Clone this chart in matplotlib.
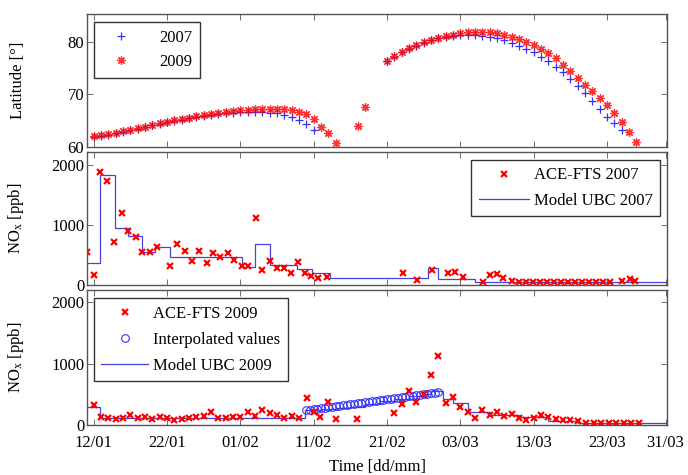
import matplotlib
matplotlib.use("Agg")
import matplotlib.pyplot as plt

plt.rcParams['font.family'] = ['Liberation Serif', 'DejaVu Serif']
plt.rcParams['mathtext.fontset'] = 'custom'
plt.rcParams['mathtext.rm'] = 'Liberation Serif'
plt.rcParams['mathtext.it'] = 'Liberation Serif:italic'

# ---- x axis ticks (days since 12 Jan) ----
tick_days = [0, 10, 20, 30, 40, 50, 60, 70, 78]
tick_labels = ['12/01', '22/01', '01/02', '11/02', '21/02', '03/03', '13/03', '23/03', '31/03']

# ---- Latitude 2007 ----
lat07_days = list(range(0, 31)) + list(range(40, 73))
lat07 = [61.9, 62.1, 62.3, 62.6, 62.9, 63.2, 63.5, 63.8, 64.1, 64.4, 64.7, 65.0, 65.2, 65.5,
         65.7, 65.9, 66.1, 66.3, 66.4, 66.5, 66.6, 66.6, 66.6, 66.6, 66.5, 66.4, 66.1, 65.7,
         65.1, 64.3, 63.2,
         76.3, 77.2, 78.0, 78.7, 79.3, 79.8, 80.3, 80.7, 81.0, 81.2, 81.3, 81.3, 81.3, 81.2,
         81.0, 80.7, 80.3, 79.8, 79.3, 78.7, 78.0, 77.2, 76.3, 75.3, 74.2, 73.0, 71.7, 70.3,
         68.8, 67.3, 65.8, 64.6, 63.2]

# ---- Latitude 2009 ----
lat09_days = list(range(0, 34)) + [36, 37] + list(range(40, 75))
lat09 = [62.0, 62.2, 62.4, 62.7, 63.0, 63.3, 63.6, 63.9, 64.2, 64.5, 64.8, 65.1, 65.4, 65.6,
         65.9, 66.1, 66.3, 66.5, 66.7, 66.9, 67.0, 67.1, 67.2, 67.3, 67.3, 67.3, 67.2, 67.0,
         66.7, 66.2, 65.3, 63.9, 62.6, 60.8,
         64.0, 67.6,
         76.4, 77.3, 78.1, 78.8, 79.4, 79.9, 80.4, 80.8, 81.1, 81.4, 81.6, 81.8, 81.9, 81.9,
         81.8, 81.6, 81.4, 81.0, 80.5, 80.0, 79.4, 78.7, 77.9, 77.0, 75.6, 74.5, 73.2, 71.8,
         70.6, 69.4, 68.0, 66.4, 64.7, 62.8, 61.0]

# ---- NOx ACE-FTS 2007 ----
ace07_days = [-0.9, 0.0, 0.9, 1.8, 2.8, 3.9, 4.7, 5.8, 6.6, 7.7, 8.6, 10.4, 11.4, 12.5, 13.4,
              14.4, 15.4, 16.3, 17.3, 18.3, 19.2, 20.2, 21.0, 22.1, 23.0, 24.0, 25.0, 25.9,
              26.9, 27.9, 28.8, 29.7, 30.6, 31.8,
              42.2, 44.1, 46.2, 48.3, 49.3, 50.4, 53.1, 54.1, 55.0, 55.8,
              57.1, 58.0, 59.0, 59.9, 60.9, 61.8, 62.8, 63.7, 64.7, 65.6, 66.6, 67.5, 68.5,
              69.5, 70.4, 72.1, 73.1, 73.8]
ace07 = [550, 170, 1880, 1730, 720, 1200, 900, 800, 550, 550, 630, 320, 680, 570, 400,
         570, 370, 530, 470, 530, 420, 320, 320, 1120, 250, 400, 280, 280,
         200, 380, 200, 150, 120, 130,
         200, 80, 250, 200, 220, 130, 50, 170, 190, 120,
         60, 50, 55, 50, 45, 50, 55, 50, 45, 50, 50, 45, 50,
         50, 45, 70, 100, 60]

# ---- Model UBC 2007 (stairs) ----
ubc07_edges = [-1.0, 0.9, 2.9, 4.7, 6.6, 8.4, 10.4, 20.2, 22.0, 24.1, 27.7, 29.8, 32.3,
               45.6, 47.0, 52.0, 78.5]
ubc07 = [370, 1830, 945, 822, 556, 639, 472, 306, 678, 333, 267, 194, 110, 280, 100, 50]

# ---- NOx ACE-FTS 2009 ----
ace09_days = list(range(0, 29)) + [29.1, 30.0, 30.9, 32.0, 33.0, 35.9] + \
    list(range(41, 67)) + [67.1, 68.2, 69.2, 70.3, 71.3, 72.3, 73.3, 74.4]
ace09 = [325, 140, 110, 100, 120, 170, 110, 130, 100, 140, 110, 90, 100, 110, 130, 150,
         220, 120, 110, 140, 130, 210, 150, 240, 190, 160, 120, 150, 110,
         440, 210, 130, 375, 100, 100,
         190, 350, 550, 370, 500, 810, 1120, 360, 450, 300, 220, 110, 240, 160, 220, 150,
         180, 110, 80, 110, 160, 130, 100, 80, 80, 60,
         30, 30, 30, 30, 30, 30, 30, 30]

# ---- Interpolated values 2009 ----
interp_days = [29.0, 29.5, 30.0, 30.5, 31.0, 31.5, 32.0, 32.5, 33.0, 33.5, 34.0, 34.5, 35.0,
               35.5, 36.0, 36.5, 37.0, 37.5, 38.0, 38.5, 39.0, 39.5, 40.0, 40.5, 41.0, 41.5,
               42.0, 42.5, 43.0, 43.5, 44.0, 44.5, 45.0, 45.5, 46.0, 46.5, 47.0]
interp = [245, 252, 260, 268, 276, 284, 292, 300, 308, 316, 324, 332, 340, 348, 356, 364,
          372, 380, 388, 396, 404, 412, 420, 428, 436, 444, 452, 460, 468, 476, 484, 492,
          500, 508, 516, 524, 532]

# ---- Model UBC 2009 (stairs) ----
ubc09_edges = [-1.0, 0.9, 28.8, 31.0, 33.0, 35.0, 37.0, 39.0, 41.0, 43.0, 45.0, 46.0, 47.7,
               49.0, 51.0, 54.0, 58.0, 62.0, 66.0, 78.5]
ubc09 = [300, 120, 245, 260, 280, 300, 340, 390, 420, 470, 510, 560, 430, 360, 220, 160,
         130, 70, 30]

RED = '#ff0000'
BLUE = '#3333ff'
LINEBLUE = '#4444dd'
FRAME = '#555555'
ASTER = (8, 2, 0)

fig = plt.figure(figsize=(6.88, 4.75), dpi=100)
L, W = 0.1265, 0.843
ax1 = fig.add_axes([L, 0.6905, W, 0.280])
ax2 = fig.add_axes([L, 0.400, W, 0.280])
ax3 = fig.add_axes([L, 0.105, W, 0.284])

# Top panel
ax1.plot(lat07_days, lat07, linestyle='none', marker='+', color=BLUE, markersize=6,
         mew=0.9, label='2007')
ax1.plot(lat09_days, lat09, linestyle='none', marker=ASTER, color=RED, markersize=6,
         mew=0.9, label='2009', alpha=0.8)
ax1.set_ylim(60, 85.3)
ax1.set_yticks([60, 70, 80])
ax1.set_ylabel('Latitude [°]', fontsize=12)
ax1.legend(loc='upper left', bbox_to_anchor=(0.012, 0.94), borderaxespad=0,
           fontsize=12, fancybox=False, edgecolor='#333333', framealpha=1,
           handlelength=2.2, handletextpad=1.2, borderpad=0.5, labelspacing=0.45)

# Middle panel
ax2.stairs(ubc07, ubc07_edges, color=LINEBLUE, linewidth=0.9, label='Model UBC 2007')
ax2.plot(ace07_days, ace07, linestyle='none', marker='x', color=RED, markersize=5,
         mew=1.6, label='ACE-FTS 2007')
ax2.set_ylim(0, 2210)
ax2.set_yticks([0, 1000, 2000])
ax2.set_ylabel('NO$_\\mathrm{x}$ [ppb]', fontsize=12)
h, l = ax2.get_legend_handles_labels()
ax2.legend([h[1], h[0]], [l[1], l[0]], loc='upper right', bbox_to_anchor=(0.988, 0.94),
           borderaxespad=0, fontsize=12, fancybox=False, edgecolor='#333333', framealpha=1,
           handlelength=3.0, handletextpad=0.3, borderpad=0.45, labelspacing=0.55)

# Bottom panel
ax3.stairs(ubc09, ubc09_edges, color=LINEBLUE, linewidth=0.9, label='Model UBC 2009')
ax3.plot(interp_days, interp, linestyle='none', marker='o', markerfacecolor='none',
         markeredgecolor=BLUE, markersize=5.5, mew=0.8, label='Interpolated values')
ax3.plot(ace09_days, ace09, linestyle='none', marker='x', color=RED, markersize=5,
         mew=1.6, label='ACE-FTS 2009')
ax3.set_ylim(0, 2190)
ax3.set_yticks([0, 1000, 2000])
ax3.set_ylabel('NO$_\\mathrm{x}$ [ppb]', fontsize=12)
ax3.set_xlabel('Time [dd/mm]', fontsize=12, labelpad=6)
h, l = ax3.get_legend_handles_labels()
ax3.legend([h[2], h[1], h[0]], [l[2], l[1], l[0]], loc='upper left',
           bbox_to_anchor=(0.012, 0.94), borderaxespad=0, fontsize=12, fancybox=False,
           edgecolor='#333333', framealpha=1, handlelength=2.8, handletextpad=0.3,
           borderpad=0.45, labelspacing=0.6)

for ax in (ax1, ax2, ax3):
    ax.set_xlim(-0.9, 78.2)
    ax.set_xticks(tick_days)
    ax.tick_params(direction='in', top=True, right=True, length=4, width=0.6,
                   color=FRAME, labelsize=12, pad=2)
    for s in ax.spines.values():
        s.set_color(FRAME)
        s.set_linewidth(1.0)
    ax.yaxis.set_label_coords(-0.105, 0.5)

ax1.set_xticklabels([])
ax2.set_xticklabels([])
ax3.set_xticklabels(tick_labels)
ax3.tick_params(axis='x', pad=7)

fig.savefig('out.png', dpi=100)
